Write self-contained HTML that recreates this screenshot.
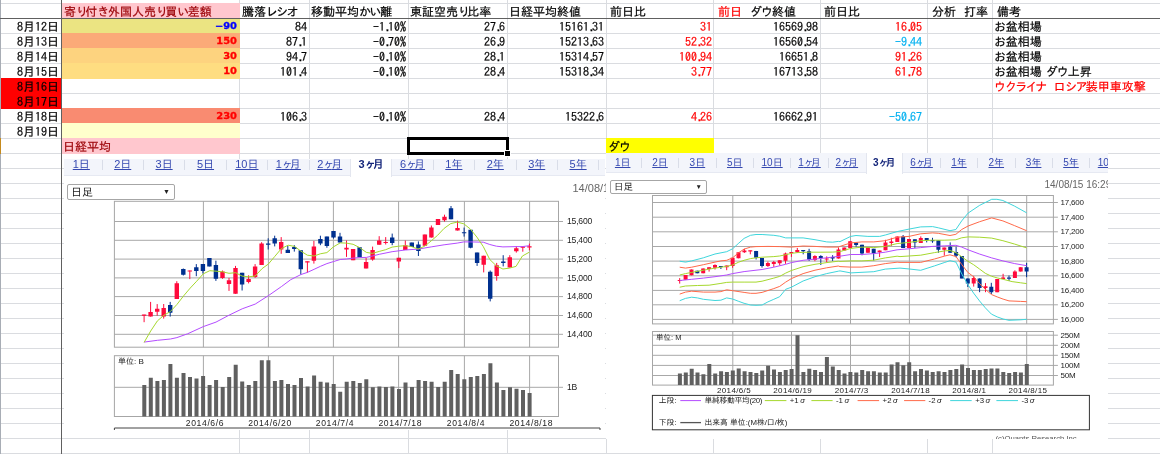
<!DOCTYPE html>
<html lang="ja"><head><meta charset="utf-8"><title>sheet</title><style>
html,body{margin:0;padding:0;background:#fff;}
body{width:1160px;height:454px;overflow:hidden;position:relative;font-family:"IPAGothic","Liberation Sans","Noto Sans CJK JP",sans-serif;font-size:12px;color:#000;}
.a{position:absolute;}
.c{position:absolute;height:15px;line-height:15px;white-space:nowrap;font-size:12px;overflow:visible;-webkit-text-stroke:0.2px;}
.r{text-align:right;}
.b{font-family:"DejaVu Sans","Liberation Sans",sans-serif;font-weight:bold;font-size:9px;text-align:right;line-height:14px;transform:scaleX(1.1);transform-origin:right center;-webkit-text-stroke:0.3px;}
.hl{position:absolute;height:1px;background:#dadce0;}
.vl{position:absolute;width:1px;background:#dadce0;}
.tab{position:absolute;text-align:center;white-space:nowrap;color:#3548b0;font-family:"Liberation Sans","IPAGothic","Noto Sans CJK JP",sans-serif;}
.tab span{text-decoration:underline;}
.tab i{font-style:normal;letter-spacing:-3px;}
.tab.sel{color:#14257a;font-weight:bold;background:#fff;}
.tab.sel span{text-decoration:none;}
.sep{position:absolute;width:1px;background:#d9dde8;}
.selbox{position:absolute;box-sizing:border-box;border:1px solid #a6a6a6;border-radius:2px;background:#fff;color:#222;white-space:nowrap;font-family:"Liberation Sans","IPAGothic","Noto Sans CJK JP",sans-serif;}
.dt{position:absolute;color:#666;font-family:"Liberation Sans",sans-serif;white-space:nowrap;overflow:hidden;}
svg{position:absolute;left:0;top:0;overflow:hidden;}
svg text{font-family:"Liberation Sans","IPAGothic","Noto Sans CJK JP",sans-serif;fill:#222;}
</style></head><body>
<div class="hl" style="left:0;top:3px;width:1160px"></div>
<div class="hl" style="left:0;top:33px;width:1160px"></div>
<div class="hl" style="left:0;top:48px;width:1160px"></div>
<div class="hl" style="left:0;top:63px;width:1160px"></div>
<div class="hl" style="left:0;top:78px;width:1160px"></div>
<div class="hl" style="left:0;top:93px;width:1160px"></div>
<div class="hl" style="left:0;top:108px;width:1160px"></div>
<div class="hl" style="left:0;top:123px;width:1160px"></div>
<div class="hl" style="left:0;top:138px;width:1160px"></div>
<div class="hl" style="left:0;top:153px;width:1160px"></div>
<div class="hl" style="left:0;top:168px;width:1160px"></div>
<div class="hl" style="left:0;top:183px;width:1160px"></div>
<div class="hl" style="left:0;top:198px;width:1160px"></div>
<div class="hl" style="left:0;top:213px;width:1160px"></div>
<div class="hl" style="left:0;top:228px;width:1160px"></div>
<div class="hl" style="left:0;top:243px;width:1160px"></div>
<div class="hl" style="left:0;top:258px;width:1160px"></div>
<div class="hl" style="left:0;top:273px;width:1160px"></div>
<div class="hl" style="left:0;top:288px;width:1160px"></div>
<div class="hl" style="left:0;top:303px;width:1160px"></div>
<div class="hl" style="left:0;top:318px;width:1160px"></div>
<div class="hl" style="left:0;top:333px;width:1160px"></div>
<div class="hl" style="left:0;top:348px;width:1160px"></div>
<div class="hl" style="left:0;top:363px;width:1160px"></div>
<div class="hl" style="left:0;top:378px;width:1160px"></div>
<div class="hl" style="left:0;top:393px;width:1160px"></div>
<div class="hl" style="left:0;top:408px;width:1160px"></div>
<div class="hl" style="left:0;top:423px;width:1160px"></div>
<div class="hl" style="left:0;top:438px;width:1160px"></div>
<div class="hl" style="left:0;top:453px;width:1160px"></div>
<div class="vl" style="left:239px;top:0;height:454px"></div>
<div class="vl" style="left:309px;top:0;height:454px"></div>
<div class="vl" style="left:408px;top:0;height:454px"></div>
<div class="vl" style="left:507px;top:0;height:454px"></div>
<div class="vl" style="left:606px;top:0;height:454px"></div>
<div class="vl" style="left:713px;top:0;height:454px"></div>
<div class="vl" style="left:820px;top:0;height:454px"></div>
<div class="vl" style="left:927px;top:0;height:454px"></div>
<div class="vl" style="left:992px;top:0;height:454px"></div>
<div class="a" style="left:62px;top:3px;width:178px;height:15px;background:#ffc7ce"></div>
<div class="a" style="left:62px;top:19px;width:178px;height:14px;background:#ebe482"></div>
<div class="a" style="left:62px;top:33px;width:178px;height:15px;background:#fbaa78"></div>
<div class="a" style="left:62px;top:48px;width:178px;height:15px;background:#fdd37f"></div>
<div class="a" style="left:62px;top:63px;width:178px;height:16px;background:#fedd81"></div>
<div class="a" style="left:1px;top:78px;width:60px;height:31px;background:#ff0000"></div>
<div class="a" style="left:62px;top:108px;width:178px;height:15px;background:#f98b71"></div>
<div class="a" style="left:62px;top:123px;width:178px;height:15px;background:#ffffcc"></div>
<div class="a" style="left:62px;top:138px;width:178px;height:16px;background:#ffc7ce"></div>
<div class="a" style="left:606px;top:138px;width:108px;height:15px;background:#ffff00"></div>
<div class="a" style="left:0;top:0;width:1px;height:454px;background:#a8adb5"></div>
<div class="a" style="left:0;top:138px;width:1px;height:16px;background:#c58a1e"></div>
<div class="a" style="left:61px;top:0;width:1px;height:454px;background:#606060"></div>
<div class="a" style="left:0;top:18px;width:1160px;height:1px;background:#606060"></div>
<div class="c " style="left:64px;top:4px;width:176px;color:#9c0006">寄<span style="letter-spacing:-2.7px">り</span>付<span style="letter-spacing:-1.4px">き</span>外国人売<span style="letter-spacing:-2.7px">り</span>買<span style="letter-spacing:-1.4px">い</span>差額</div>
<div class="c " style="left:242px;top:4px;width:67px;">騰落<span style="letter-spacing:-1.7px">レ</span><span style="letter-spacing:-1.7px">シ</span><span style="letter-spacing:-1.5px">オ</span></div>
<div class="c " style="left:311px;top:4px;width:97px;">移動平均<span style="letter-spacing:-1.4px">か</span><span style="letter-spacing:-1.4px">い</span>離</div>
<div class="c " style="left:410px;top:4px;width:97px;">東証空売<span style="letter-spacing:-2.7px">り</span>比率</div>
<div class="c " style="left:509px;top:4px;width:97px;">日経平均終値</div>
<div class="c " style="left:610px;top:4px;width:104px;">前日比</div>
<div class="c " style="left:718px;top:4px;width:102px;"><span style="color:#f00">前日</span><span style="letter-spacing:-2px">&nbsp;</span><span style="letter-spacing:-2px">&nbsp;</span><span style="letter-spacing:-1px">ダ</span><span style="letter-spacing:-1px">ウ</span>終値</div>
<div class="c " style="left:824px;top:4px;width:103px;">前日比</div>
<div class="c " style="left:932px;top:4px;width:60px;">分析<span style="letter-spacing:-2px">&nbsp;</span><span style="letter-spacing:-2px">&nbsp;</span>打率</div>
<div class="c " style="left:997px;top:4px;width:163px;">備考</div>
<div class="c r" style="left:0px;top:19px;width:59px;">8月12日</div>
<div class="c b" style="left:62px;top:19px;width:175px;color:#0000ff">−90</div>
<div class="c r" style="left:242px;top:19px;width:65px;">84</div>
<div class="c r" style="left:311px;top:19px;width:95px;">−1<span style="letter-spacing:-3px;position:relative;left:0.5px">.</span>10%</div>
<div class="c r" style="left:410px;top:19px;width:95px;">27<span style="letter-spacing:-3px;position:relative;left:0.5px">.</span>6</div>
<div class="c r" style="left:509px;top:19px;width:95px;">15161<span style="letter-spacing:-3px;position:relative;left:0.5px">.</span>31</div>
<div class="c r" style="left:608px;top:19px;width:104px;color:#f00">31</div>
<div class="c r" style="left:715px;top:19px;width:103px;">16569<span style="letter-spacing:-3px;position:relative;left:0.5px">.</span>98</div>
<div class="c r" style="left:822px;top:19px;width:100px;color:#f00">16<span style="letter-spacing:-3px;position:relative;left:0.5px">.</span>05</div>
<div class="c " style="left:994px;top:19px;width:166px;color:#000"><span style="letter-spacing:-0.3px">お</span>盆相場</div>
<div class="c r" style="left:0px;top:34px;width:59px;">8月13日</div>
<div class="c b" style="left:62px;top:34px;width:175px;color:#ff0000">150</div>
<div class="c r" style="left:242px;top:34px;width:65px;">87<span style="letter-spacing:-3px;position:relative;left:0.5px">.</span>1</div>
<div class="c r" style="left:311px;top:34px;width:95px;">−0<span style="letter-spacing:-3px;position:relative;left:0.5px">.</span>70%</div>
<div class="c r" style="left:410px;top:34px;width:95px;">26<span style="letter-spacing:-3px;position:relative;left:0.5px">.</span>9</div>
<div class="c r" style="left:509px;top:34px;width:95px;">15213<span style="letter-spacing:-3px;position:relative;left:0.5px">.</span>63</div>
<div class="c r" style="left:608px;top:34px;width:104px;color:#f00">52<span style="letter-spacing:-3px;position:relative;left:0.5px">.</span>32</div>
<div class="c r" style="left:715px;top:34px;width:103px;">16560<span style="letter-spacing:-3px;position:relative;left:0.5px">.</span>54</div>
<div class="c r" style="left:822px;top:34px;width:100px;color:#00b0f0">−9<span style="letter-spacing:-3px;position:relative;left:0.5px">.</span>44</div>
<div class="c " style="left:994px;top:34px;width:166px;color:#000"><span style="letter-spacing:-0.3px">お</span>盆相場</div>
<div class="c r" style="left:0px;top:49px;width:59px;">8月14日</div>
<div class="c b" style="left:62px;top:49px;width:175px;color:#ff0000">30</div>
<div class="c r" style="left:242px;top:49px;width:65px;">94<span style="letter-spacing:-3px;position:relative;left:0.5px">.</span>7</div>
<div class="c r" style="left:311px;top:49px;width:95px;">−0<span style="letter-spacing:-3px;position:relative;left:0.5px">.</span>10%</div>
<div class="c r" style="left:410px;top:49px;width:95px;">28<span style="letter-spacing:-3px;position:relative;left:0.5px">.</span>1</div>
<div class="c r" style="left:509px;top:49px;width:95px;">15314<span style="letter-spacing:-3px;position:relative;left:0.5px">.</span>57</div>
<div class="c r" style="left:608px;top:49px;width:104px;color:#f00">100<span style="letter-spacing:-3px;position:relative;left:0.5px">.</span>94</div>
<div class="c r" style="left:715px;top:49px;width:103px;">16651<span style="letter-spacing:-3px;position:relative;left:0.5px">.</span>8</div>
<div class="c r" style="left:822px;top:49px;width:100px;color:#f00">91<span style="letter-spacing:-3px;position:relative;left:0.5px">.</span>26</div>
<div class="c " style="left:994px;top:49px;width:166px;color:#000"><span style="letter-spacing:-0.3px">お</span>盆相場</div>
<div class="c r" style="left:0px;top:64px;width:59px;">8月15日</div>
<div class="c b" style="left:62px;top:64px;width:175px;color:#ff0000">10</div>
<div class="c r" style="left:242px;top:64px;width:65px;">101<span style="letter-spacing:-3px;position:relative;left:0.5px">.</span>4</div>
<div class="c r" style="left:311px;top:64px;width:95px;">−0<span style="letter-spacing:-3px;position:relative;left:0.5px">.</span>10%</div>
<div class="c r" style="left:410px;top:64px;width:95px;">28<span style="letter-spacing:-3px;position:relative;left:0.5px">.</span>4</div>
<div class="c r" style="left:509px;top:64px;width:95px;">15318<span style="letter-spacing:-3px;position:relative;left:0.5px">.</span>34</div>
<div class="c r" style="left:608px;top:64px;width:104px;color:#f00">3<span style="letter-spacing:-3px;position:relative;left:0.5px">.</span>77</div>
<div class="c r" style="left:715px;top:64px;width:103px;">16713<span style="letter-spacing:-3px;position:relative;left:0.5px">.</span>58</div>
<div class="c r" style="left:822px;top:64px;width:100px;color:#f00">61<span style="letter-spacing:-3px;position:relative;left:0.5px">.</span>78</div>
<div class="c " style="left:994px;top:64px;width:166px;color:#000"><span style="letter-spacing:-0.3px">お</span>盆相場<span style="letter-spacing:-2px">&nbsp;</span><span style="letter-spacing:-1px">ダ</span><span style="letter-spacing:-1px">ウ</span>上昇</div>
<div class="c r" style="left:0px;top:79px;width:59px;">8月16日</div>
<div class="c " style="left:994px;top:79px;width:166px;color:#f00"><span style="letter-spacing:-1px">ウ</span><span style="letter-spacing:-1.7px">ク</span><span style="letter-spacing:-1.7px">ラ</span><span style="letter-spacing:-2.5px">イ</span><span style="letter-spacing:-1.7px">ナ</span><span style="letter-spacing:-2px">&nbsp;</span><span style="letter-spacing:-2px">&nbsp;</span><span style="letter-spacing:-0.3px">ロ</span><span style="letter-spacing:-1.7px">シ</span><span style="letter-spacing:-1.7px">ア</span>装甲車攻撃</div>
<div class="c r" style="left:0px;top:94px;width:59px;">8月17日</div>
<div class="c r" style="left:0px;top:109px;width:59px;">8月18日</div>
<div class="c b" style="left:62px;top:109px;width:175px;color:#ff0000">230</div>
<div class="c r" style="left:242px;top:109px;width:65px;">106<span style="letter-spacing:-3px;position:relative;left:0.5px">.</span>3</div>
<div class="c r" style="left:311px;top:109px;width:95px;">−0<span style="letter-spacing:-3px;position:relative;left:0.5px">.</span>10%</div>
<div class="c r" style="left:410px;top:109px;width:95px;">28<span style="letter-spacing:-3px;position:relative;left:0.5px">.</span>4</div>
<div class="c r" style="left:509px;top:109px;width:95px;">15322<span style="letter-spacing:-3px;position:relative;left:0.5px">.</span>6</div>
<div class="c r" style="left:608px;top:109px;width:104px;color:#f00">4<span style="letter-spacing:-3px;position:relative;left:0.5px">.</span>26</div>
<div class="c r" style="left:715px;top:109px;width:103px;">16662<span style="letter-spacing:-3px;position:relative;left:0.5px">.</span>91</div>
<div class="c r" style="left:822px;top:109px;width:100px;color:#00b0f0">−50<span style="letter-spacing:-3px;position:relative;left:0.5px">.</span>67</div>
<div class="c r" style="left:0px;top:124px;width:59px;">8月19日</div>
<div class="c " style="left:63px;top:139px;width:177px;color:#9c0006">日経平均</div>
<div class="c " style="left:608px;top:139px;width:106px;"><span style="letter-spacing:-1px">ダ</span><span style="letter-spacing:-1px">ウ</span></div>
<div class="a" style="left:407px;top:137px;width:96px;height:12px;border:3px solid #000"></div>
<div class="a" style="left:504px;top:150px;width:5px;height:5px;background:#000;border:1px solid #fff"></div>
<div class="a" style="left:64px;top:159px;width:541px;height:271px;background:#fff"></div>
<div class="a" style="left:64px;top:159px;width:541px;height:19px;overflow:hidden">
<div class="a" style="left:0;top:0;width:541px;height:17px;background:#f3f5fb;border-bottom:1px solid #e6e9f2;box-sizing:border-box"></div>
<div class="tab" style="left:-3.40px;top:0;width:41.40px;height:17px;line-height:11.5px;font-size:11px"><span>1日</span></div>
<div class="tab" style="left:38.00px;top:0;width:41.40px;height:17px;line-height:11.5px;font-size:11px"><span>2日</span></div>
<div class="sep" style="left:37.5px;top:0.75px;height:10px"></div>
<div class="tab" style="left:79.40px;top:0;width:41.40px;height:17px;line-height:11.5px;font-size:11px"><span>3日</span></div>
<div class="sep" style="left:78.9px;top:0.75px;height:10px"></div>
<div class="tab" style="left:120.80px;top:0;width:41.40px;height:17px;line-height:11.5px;font-size:11px"><span>5日</span></div>
<div class="sep" style="left:120.3px;top:0.75px;height:10px"></div>
<div class="tab" style="left:162.20px;top:0;width:41.40px;height:17px;line-height:11.5px;font-size:11px"><span>10日</span></div>
<div class="sep" style="left:161.7px;top:0.75px;height:10px"></div>
<div class="tab" style="left:203.60px;top:0;width:41.40px;height:17px;line-height:11.5px;font-size:11px"><span>1<i>ヶ</i>月</span></div>
<div class="sep" style="left:203.1px;top:0.75px;height:10px"></div>
<div class="tab" style="left:245.00px;top:0;width:41.40px;height:17px;line-height:11.5px;font-size:11px"><span>2<i>ヶ</i>月</span></div>
<div class="sep" style="left:244.5px;top:0.75px;height:10px"></div>
<div class="tab sel" style="left:286.40px;top:0;width:41.40px;height:18px;line-height:11.5px;font-size:11px;border-left:1px solid #e3e6ef;border-right:1px solid #e3e6ef;box-sizing:border-box"><span>3<i>ヶ</i>月</span></div>
<div class="tab" style="left:327.80px;top:0;width:41.40px;height:17px;line-height:11.5px;font-size:11px"><span>6<i>ヶ</i>月</span></div>
<div class="tab" style="left:369.20px;top:0;width:41.40px;height:17px;line-height:11.5px;font-size:11px"><span>1年</span></div>
<div class="sep" style="left:368.7px;top:0.75px;height:10px"></div>
<div class="tab" style="left:410.60px;top:0;width:41.40px;height:17px;line-height:11.5px;font-size:11px"><span>2年</span></div>
<div class="sep" style="left:410.1px;top:0.75px;height:10px"></div>
<div class="tab" style="left:452.00px;top:0;width:41.40px;height:17px;line-height:11.5px;font-size:11px"><span>3年</span></div>
<div class="sep" style="left:451.5px;top:0.75px;height:10px"></div>
<div class="tab" style="left:493.40px;top:0;width:41.40px;height:17px;line-height:11.5px;font-size:11px"><span>5年</span></div>
<div class="sep" style="left:492.9px;top:0.75px;height:10px"></div>
<div class="tab" style="left:534.80px;top:0;width:41.40px;height:17px;line-height:11.5px;font-size:11px"><span>10年</span></div>
<div class="sep" style="left:534.3px;top:0.75px;height:10px"></div>
</div>
<div class="selbox" style="left:67px;top:184px;width:108px;height:16px;font-size:11px;line-height:14px;padding-left:3px">日足<span style="position:absolute;right:4px;top:0;font-size:7px">▼</span></div>
<div class="dt" style="left:572.5px;top:182px;width:33.5px;height:13px;line-height:13px;font-size:11px">14/08/15 16:29</div>
<svg style="left:64px;top:159px" width="541" height="271" viewBox="64 159 541 271">
<path d="M114.4 221.5 H563.0 M114.4 240.3 H563.0 M114.4 259.1 H563.0 M114.4 277.9 H563.0 M114.4 296.6 H563.0 M114.4 315.5 H563.0 M114.4 334.3 H563.0 M203.4 201.3 V347.2 M203.4 355.7 V416.5 M268.4 201.3 V347.2 M268.4 355.7 V416.5 M333.4 201.3 V347.2 M333.4 355.7 V416.5 M398.6 201.3 V347.2 M398.6 355.7 V416.5 M464.4 201.3 V347.2 M464.4 355.7 V416.5 M529.6 201.3 V347.2 M529.6 355.7 V416.5 M114.4 387.3 H563.0" stroke="#a8a8a8" stroke-width="1" fill="none"/>
<rect x="114.4" y="201.3" width="444.1" height="145.9" fill="none" stroke="#a6a6a6" stroke-width="1"/>
<rect x="114.4" y="355.7" width="444.1" height="60.8" fill="none" stroke="#a6a6a6" stroke-width="1"/>
<path d="M142.3 416.5 h4.0 V385.0 h-4.0 z M148.8 416.5 h4.0 V377.8 h-4.0 z M155.4 416.5 h4.0 V380.9 h-4.0 z M161.9 416.5 h4.0 V380.0 h-4.0 z M168.4 416.5 h4.0 V364.0 h-4.0 z M174.9 416.5 h4.0 V377.8 h-4.0 z M181.5 416.5 h4.0 V373.1 h-4.0 z M188.0 416.5 h4.0 V376.9 h-4.0 z M194.5 416.5 h4.0 V378.6 h-4.0 z M201.1 416.5 h4.0 V376.0 h-4.0 z M207.6 416.5 h4.0 V385.0 h-4.0 z M214.1 416.5 h4.0 V380.0 h-4.0 z M220.7 416.5 h4.0 V386.9 h-4.0 z M227.2 416.5 h4.0 V376.9 h-4.0 z M233.7 416.5 h4.0 V364.8 h-4.0 z M240.2 416.5 h4.0 V381.6 h-4.0 z M246.8 416.5 h4.0 V385.0 h-4.0 z M253.3 416.5 h4.0 V380.9 h-4.0 z M259.8 416.5 h4.0 V360.2 h-4.0 z M266.4 416.5 h4.0 V360.2 h-4.0 z M272.9 416.5 h4.0 V380.9 h-4.0 z M279.4 416.5 h4.0 V380.0 h-4.0 z M286.0 416.5 h4.0 V384.1 h-4.0 z M292.5 416.5 h4.0 V385.0 h-4.0 z M299.0 416.5 h4.0 V377.9 h-4.0 z M305.6 416.5 h4.0 V386.5 h-4.0 z M312.1 416.5 h4.0 V375.6 h-4.0 z M318.6 416.5 h4.0 V381.8 h-4.0 z M325.1 416.5 h4.0 V382.5 h-4.0 z M331.7 416.5 h4.0 V383.9 h-4.0 z M338.2 416.5 h4.0 V391.7 h-4.0 z M344.7 416.5 h4.0 V381.8 h-4.0 z M351.3 416.5 h4.0 V381.0 h-4.0 z M357.8 416.5 h4.0 V383.0 h-4.0 z M364.3 416.5 h4.0 V379.2 h-4.0 z M370.8 416.5 h4.0 V387.3 h-4.0 z M377.4 416.5 h4.0 V386.5 h-4.0 z M383.9 416.5 h4.0 V387.0 h-4.0 z M390.4 416.5 h4.0 V386.5 h-4.0 z M397.0 416.5 h4.0 V389.1 h-4.0 z M403.5 416.5 h4.0 V382.5 h-4.0 z M410.0 416.5 h4.0 V387.0 h-4.0 z M416.6 416.5 h4.0 V380.1 h-4.0 z M423.1 416.5 h4.0 V381.0 h-4.0 z M429.6 416.5 h4.0 V381.8 h-4.0 z M436.2 416.5 h4.0 V387.0 h-4.0 z M442.7 416.5 h4.0 V381.8 h-4.0 z M449.2 416.5 h4.0 V370.1 h-4.0 z M455.7 416.5 h4.0 V373.9 h-4.0 z M462.3 416.5 h4.0 V379.2 h-4.0 z M468.8 416.5 h4.0 V377.0 h-4.0 z M475.3 416.5 h4.0 V376.1 h-4.0 z M481.9 416.5 h4.0 V373.9 h-4.0 z M488.4 416.5 h4.0 V363.2 h-4.0 z M494.9 416.5 h4.0 V382.5 h-4.0 z M501.4 416.5 h4.0 V389.9 h-4.0 z M508.0 416.5 h4.0 V387.3 h-4.0 z M514.5 416.5 h4.0 V388.7 h-4.0 z M521.0 416.5 h4.0 V389.9 h-4.0 z M527.6 416.5 h4.0 V393.0 h-4.0 z" fill="#606060"/>
<path d="M144.1 314.7 V322.2 M150.6 301.9 V316.6 M157.2 304.1 V315.7 M163.7 304.0 V318.6 M176.8 281.2 V299.0 M189.8 270.5 V279.1 M222.5 270.5 V278.8 M229.0 277.9 V290.9 M235.5 265.9 V293.8 M248.6 275.3 V283.4 M255.1 264.1 V277.9 M261.6 242.2 V265.0 M281.2 237.1 V253.8 M307.4 261.4 V272.8 M313.9 240.9 V263.6 M346.5 240.5 V256.9 M353.1 249.0 V260.2 M366.1 257.8 V268.4 M372.6 246.6 V260.7 M379.2 236.2 V244.8 M385.7 237.1 V244.5 M398.8 257.8 V268.1 M405.3 240.5 V250.0 M424.9 234.5 V245.7 M431.4 225.5 V237.6 M438.0 219.0 V225.0 M444.5 214.7 V221.6 M457.5 220.7 V230.5 M483.7 255.7 V272.4 M496.7 262.9 V280.7 M509.8 255.2 V267.6 M516.3 246.2 V252.6 M522.8 246.6 V251.7 M529.4 243.6 V250.3" stroke="#ff0a3c" stroke-width="1" fill="none"/>
<path d="M141.9 314.6 h4.4 V315.8 h-4.4 z M148.4 311.9 h4.4 V316.6 h-4.4 z M155.0 308.8 h4.4 V311.7 h-4.4 z M161.5 307.9 h4.4 V316.6 h-4.4 z M174.6 283.3 h4.4 V299.0 h-4.4 z M187.6 270.4 h4.4 V271.6 h-4.4 z M220.3 271.6 h4.4 V277.9 h-4.4 z M226.8 280.2 h4.4 V284.0 h-4.4 z M233.3 267.9 h4.4 V293.8 h-4.4 z M246.4 279.1 h4.4 V281.9 h-4.4 z M252.9 266.4 h4.4 V277.1 h-4.4 z M259.4 243.4 h4.4 V265.0 h-4.4 z M279.0 242.1 h4.4 V249.5 h-4.4 z M305.2 261.3 h4.4 V262.5 h-4.4 z M311.7 246.6 h4.4 V260.7 h-4.4 z M344.3 247.8 h4.4 V249.5 h-4.4 z M350.9 249.0 h4.4 V260.2 h-4.4 z M363.9 261.9 h4.4 V268.4 h-4.4 z M370.4 250.0 h4.4 V259.5 h-4.4 z M377.0 240.5 h4.4 V244.8 h-4.4 z M383.5 241.9 h4.4 V243.1 h-4.4 z M396.6 257.8 h4.4 V261.6 h-4.4 z M403.1 245.3 h4.4 V250.0 h-4.4 z M422.7 234.5 h4.4 V245.7 h-4.4 z M429.2 227.6 h4.4 V237.6 h-4.4 z M435.8 219.0 h4.4 V225.0 h-4.4 z M442.3 216.7 h4.4 V220.3 h-4.4 z M455.3 227.9 h4.4 V230.5 h-4.4 z M481.5 255.7 h4.4 V264.7 h-4.4 z M494.5 265.2 h4.4 V276.0 h-4.4 z M507.6 257.2 h4.4 V267.6 h-4.4 z M514.1 248.3 h4.4 V251.2 h-4.4 z M520.6 246.5 h4.4 V247.7 h-4.4 z M527.2 246.3 h4.4 V247.5 h-4.4 z" fill="#ff0a3c"/>
<path d="M170.2 301.9 V316.6 M183.3 268.5 V275.5 M196.3 264.1 V276.2 M202.9 264.1 V273.6 M209.4 258.1 V266.4 M215.9 260.7 V280.9 M242.1 272.8 V290.5 M268.2 238.3 V249.5 M274.7 235.7 V246.4 M287.8 246.0 V252.9 M294.3 245.2 V251.6 M300.8 250.3 V274.5 M320.4 235.7 V245.2 M326.9 236.6 V247.8 M333.5 231.0 V238.6 M340.0 232.8 V242.6 M359.6 247.2 V257.2 M392.2 233.6 V245.2 M411.8 242.6 V246.9 M418.4 241.4 V256.0 M451.0 206.0 V219.3 M464.1 227.6 V236.6 M470.6 229.8 V248.3 M477.1 252.6 V265.9 M490.2 270.5 V301.4 M503.2 255.2 V266.4" stroke="#00308f" stroke-width="1" fill="none"/>
<path d="M168.0 305.0 h4.4 V312.8 h-4.4 z M181.1 269.0 h4.4 V274.8 h-4.4 z M194.1 267.2 h4.4 V271.0 h-4.4 z M200.7 264.1 h4.4 V271.0 h-4.4 z M207.2 258.1 h4.4 V266.4 h-4.4 z M213.7 265.0 h4.4 V278.8 h-4.4 z M239.9 272.8 h4.4 V284.5 h-4.4 z M266.0 243.4 h4.4 V244.7 h-4.4 z M272.5 238.3 h4.4 V243.4 h-4.4 z M285.6 249.8 h4.4 V252.9 h-4.4 z M292.1 246.9 h4.4 V249.0 h-4.4 z M298.6 250.3 h4.4 V269.3 h-4.4 z M318.2 239.1 h4.4 V243.4 h-4.4 z M324.7 236.6 h4.4 V246.0 h-4.4 z M331.3 231.0 h4.4 V237.4 h-4.4 z M337.8 236.6 h4.4 V242.6 h-4.4 z M357.4 247.2 h4.4 V257.2 h-4.4 z M390.0 237.6 h4.4 V243.1 h-4.4 z M409.6 242.6 h4.4 V246.9 h-4.4 z M416.2 244.5 h4.4 V250.9 h-4.4 z M448.8 208.3 h4.4 V219.3 h-4.4 z M461.9 232.2 h4.4 V233.3 h-4.4 z M468.4 229.8 h4.4 V247.8 h-4.4 z M474.9 252.6 h4.4 V262.9 h-4.4 z M488.0 271.7 h4.4 V298.8 h-4.4 z M501.1 261.6 h4.4 V262.9 h-4.4 z" fill="#00308f"/>
<g fill="none" stroke-width="1" stroke-linejoin="round">
<path d="M144.1 342.1 L157.4 340.3 L170.5 339.0 L176.9 337.6 L187.6 333.8 L203.3 326.6 L216.0 322.1 L229.0 315.2 L242.2 308.8 L255.2 304.1 L268.6 295.5 L281.4 286.6 L290.7 279.7 L301.0 274.5 L307.4 272.4 L314.1 269.3 L320.3 266.4 L326.9 263.6 L333.4 261.6 L340.2 259.5 L346.4 259.0 L353.1 258.1 L359.5 257.6 L366.4 257.4 L372.4 256.0 L379.3 254.3 L392.1 251.7 L405.2 250.0 L418.1 249.1 L431.2 246.9 L444.1 244.8 L457.2 243.1 L463.8 241.9 L470.3 241.9 L483.3 242.2 L489.8 244.5 L496.4 246.2 L502.9 246.9 L516.0 246.6 L522.4 246.6 L529.3 245.7" stroke="#b44cff"/>
<path d="M144.1 342.4 L150.7 331.0 L157.4 320.9 L164.0 315.2 L170.5 311.4 L176.9 304.5 L183.6 295.9 L190.2 288.1 L196.7 281.2 L203.3 273.8 L209.8 270.7 L216.0 271.2 L222.6 271.8 L229.0 273.3 L235.7 272.7 L242.1 276.1 L248.8 276.8 L255.2 276.0 L262.1 268.6 L268.3 264.1 L274.8 256.4 L281.4 248.6 L288.1 245.2 L294.5 246.4 L301.0 251.2 L307.4 255.2 L314.1 256.0 L320.3 253.8 L326.9 252.6 L333.4 246.9 L340.2 242.9 L346.4 243.1 L353.1 244.3 L359.5 247.5 L366.4 252.4 L372.4 253.4 L379.3 251.4 L385.7 249.7 L392.1 247.1 L398.6 246.2 L405.2 245.7 L411.6 246.6 L418.1 249.1 L424.7 246.2 L431.2 240.9 L437.6 235.3 L444.1 228.4 L450.7 223.6 L457.2 222.1 L463.8 223.8 L470.3 229.0 L476.9 237.1 L483.3 246.6 L489.8 259.5 L496.4 265.9 L502.9 269.0 L509.5 268.1 L516.0 266.4 L522.4 256.0 L529.3 252.2" stroke="#a6d82e"/>
</g>
<text x="567.0" y="224.2" font-size="8.6" letter-spacing="-0.2">15,600</text>
<text x="567.0" y="243.0" font-size="8.6" letter-spacing="-0.2">15,400</text>
<text x="567.0" y="261.8" font-size="8.6" letter-spacing="-0.2">15,200</text>
<text x="567.0" y="280.6" font-size="8.6" letter-spacing="-0.2">15,000</text>
<text x="567.0" y="299.3" font-size="8.6" letter-spacing="-0.2">14,800</text>
<text x="567.0" y="318.2" font-size="8.6" letter-spacing="-0.2">14,600</text>
<text x="567.0" y="337.0" font-size="8.6" letter-spacing="-0.2">14,400</text>
<text x="567.0" y="390.0" font-size="8.6" letter-spacing="-0.2">1B</text>
<text x="205.0" y="425.6" font-size="8.6" letter-spacing="0.6" text-anchor="middle">2014/6/6</text>
<text x="270.0" y="425.6" font-size="8.6" letter-spacing="0.6" text-anchor="middle">2014/6/20</text>
<text x="335.0" y="425.6" font-size="8.6" letter-spacing="0.6" text-anchor="middle">2014/7/4</text>
<text x="400.2" y="425.6" font-size="8.6" letter-spacing="0.6" text-anchor="middle">2014/7/18</text>
<text x="466.0" y="425.6" font-size="8.6" letter-spacing="0.6" text-anchor="middle">2014/8/4</text>
<text x="531.2" y="425.6" font-size="8.6" letter-spacing="0.6" text-anchor="middle">2014/8/18</text>
<text x="117.9" y="364.3" font-size="8.084">単位: B</text>
<path d="M114.4 430 V428 H600 V430" fill="none" stroke="#444" stroke-width="1"/>
</svg>
<div class="a" style="left:606px;top:153px;width:502px;height:286px;background:#fff"></div>
<div class="a" style="left:606px;top:153px;width:502px;height:22px;overflow:hidden">
<div class="a" style="left:0;top:0;width:502px;height:20px;background:#f3f5fb;border-bottom:1px solid #e6e9f2;box-sizing:border-box"></div>
<div class="tab" style="left:-2.00px;top:0;width:37.36px;height:20px;line-height:20px;font-size:10px"><span>1日</span></div>
<div class="tab" style="left:35.36px;top:0;width:37.36px;height:20px;line-height:20px;font-size:10px"><span>2日</span></div>
<div class="sep" style="left:34.9px;top:5px;height:10px"></div>
<div class="tab" style="left:72.72px;top:0;width:37.36px;height:20px;line-height:20px;font-size:10px"><span>3日</span></div>
<div class="sep" style="left:72.2px;top:5px;height:10px"></div>
<div class="tab" style="left:110.08px;top:0;width:37.36px;height:20px;line-height:20px;font-size:10px"><span>5日</span></div>
<div class="sep" style="left:109.6px;top:5px;height:10px"></div>
<div class="tab" style="left:147.44px;top:0;width:37.36px;height:20px;line-height:20px;font-size:10px"><span>10日</span></div>
<div class="sep" style="left:146.9px;top:5px;height:10px"></div>
<div class="tab" style="left:184.80px;top:0;width:37.36px;height:20px;line-height:20px;font-size:10px"><span>1<i>ヶ</i>月</span></div>
<div class="sep" style="left:184.3px;top:5px;height:10px"></div>
<div class="tab" style="left:222.16px;top:0;width:37.36px;height:20px;line-height:20px;font-size:10px"><span>2<i>ヶ</i>月</span></div>
<div class="sep" style="left:221.7px;top:5px;height:10px"></div>
<div class="tab sel" style="left:259.52px;top:0;width:37.36px;height:21px;line-height:20px;font-size:10px;border-left:1px solid #e3e6ef;border-right:1px solid #e3e6ef;box-sizing:border-box"><span>3<i>ヶ</i>月</span></div>
<div class="tab" style="left:296.88px;top:0;width:37.36px;height:20px;line-height:20px;font-size:10px"><span>6<i>ヶ</i>月</span></div>
<div class="tab" style="left:334.24px;top:0;width:37.36px;height:20px;line-height:20px;font-size:10px"><span>1年</span></div>
<div class="sep" style="left:333.7px;top:5px;height:10px"></div>
<div class="tab" style="left:371.60px;top:0;width:37.36px;height:20px;line-height:20px;font-size:10px"><span>2年</span></div>
<div class="sep" style="left:371.1px;top:5px;height:10px"></div>
<div class="tab" style="left:408.96px;top:0;width:37.36px;height:20px;line-height:20px;font-size:10px"><span>3年</span></div>
<div class="sep" style="left:408.5px;top:5px;height:10px"></div>
<div class="tab" style="left:446.32px;top:0;width:37.36px;height:20px;line-height:20px;font-size:10px"><span>5年</span></div>
<div class="sep" style="left:445.8px;top:5px;height:10px"></div>
<div class="tab" style="left:483.68px;top:0;width:37.36px;height:20px;line-height:20px;font-size:10px"><span>10年</span></div>
<div class="sep" style="left:483.2px;top:5px;height:10px"></div>
</div>
<div class="selbox" style="left:610px;top:180px;width:97px;height:14px;font-size:9.5px;line-height:12px;padding-left:3px">日足<span style="position:absolute;right:4px;top:0;font-size:6.5px">▼</span></div>
<div class="dt" style="left:1044.5px;top:178px;width:63.5px;height:13px;line-height:13px;font-size:10px">14/08/15 16:29</div>
<svg style="left:606px;top:153px" width="502" height="286" viewBox="606 153 502 286">
<path d="M652.5 202.5 H1057.9 M652.5 217.2 H1057.9 M652.5 231.8 H1057.9 M652.5 246.5 H1057.9 M652.5 261.1 H1057.9 M652.5 275.8 H1057.9 M652.5 290.4 H1057.9 M652.5 304.8 H1057.9 M652.5 319.4 H1057.9 M732.8 195.5 V323.9 M732.8 331.5 V385.1 M791.5 195.5 V323.9 M791.5 331.5 V385.1 M850.5 195.5 V323.9 M850.5 331.5 V385.1 M909.4 195.5 V323.9 M909.4 331.5 V385.1 M968.1 195.5 V323.9 M968.1 331.5 V385.1 M1026.7 195.5 V323.9 M1026.7 331.5 V385.1 M652.5 335.2 H1057.9 M652.5 345.3 H1057.9 M652.5 355.3 H1057.9 M652.5 365.4 H1057.9 M652.5 375.5 H1057.9" stroke="#a8a8a8" stroke-width="1" fill="none"/>
<rect x="652.5" y="195.5" width="400.9" height="128.4" fill="none" stroke="#a6a6a6" stroke-width="1"/>
<rect x="652.5" y="331.5" width="400.9" height="53.6" fill="none" stroke="#a6a6a6" stroke-width="1"/>
<path d="M677.9 385.1 h4.0 V373.4 h-4.0 z M683.8 385.1 h4.0 V372.6 h-4.0 z M689.7 385.1 h4.0 V368.8 h-4.0 z M695.5 385.1 h4.0 V372.6 h-4.0 z M701.4 385.1 h4.0 V374.3 h-4.0 z M707.3 385.1 h4.0 V364.0 h-4.0 z M713.2 385.1 h4.0 V373.4 h-4.0 z M719.1 385.1 h4.0 V371.2 h-4.0 z M724.9 385.1 h4.0 V372.1 h-4.0 z M730.8 385.1 h4.0 V370.5 h-4.0 z M736.7 385.1 h4.0 V368.6 h-4.0 z M742.6 385.1 h4.0 V371.2 h-4.0 z M748.5 385.1 h4.0 V372.1 h-4.0 z M754.3 385.1 h4.0 V372.9 h-4.0 z M760.2 385.1 h4.0 V370.5 h-4.0 z M766.1 385.1 h4.0 V365.7 h-4.0 z M772.0 385.1 h4.0 V369.5 h-4.0 z M777.9 385.1 h4.0 V372.1 h-4.0 z M783.7 385.1 h4.0 V370.0 h-4.0 z M789.6 385.1 h4.0 V369.1 h-4.0 z M795.5 385.1 h4.0 V335.2 h-4.0 z M801.4 385.1 h4.0 V372.1 h-4.0 z M807.3 385.1 h4.0 V368.8 h-4.0 z M813.1 385.1 h4.0 V370.0 h-4.0 z M819.0 385.1 h4.0 V372.1 h-4.0 z M824.9 385.1 h4.0 V357.1 h-4.0 z M830.8 385.1 h4.0 V366.6 h-4.0 z M836.7 385.1 h4.0 V370.0 h-4.0 z M842.5 385.1 h4.0 V373.4 h-4.0 z M848.4 385.1 h4.0 V372.1 h-4.0 z M854.3 385.1 h4.0 V372.6 h-4.0 z M860.2 385.1 h4.0 V370.0 h-4.0 z M866.1 385.1 h4.0 V371.2 h-4.0 z M871.9 385.1 h4.0 V371.2 h-4.0 z M877.8 385.1 h4.0 V372.6 h-4.0 z M883.7 385.1 h4.0 V372.6 h-4.0 z M889.6 385.1 h4.0 V364.5 h-4.0 z M895.5 385.1 h4.0 V362.2 h-4.0 z M901.3 385.1 h4.0 V365.3 h-4.0 z M907.2 385.1 h4.0 V362.2 h-4.0 z M913.1 385.1 h4.0 V371.2 h-4.0 z M919.0 385.1 h4.0 V369.1 h-4.0 z M924.9 385.1 h4.0 V370.5 h-4.0 z M930.7 385.1 h4.0 V372.1 h-4.0 z M936.6 385.1 h4.0 V371.2 h-4.0 z M942.5 385.1 h4.0 V372.1 h-4.0 z M948.4 385.1 h4.0 V370.0 h-4.0 z M954.3 385.1 h4.0 V369.1 h-4.0 z M960.1 385.1 h4.0 V364.5 h-4.0 z M966.0 385.1 h4.0 V367.9 h-4.0 z M971.9 385.1 h4.0 V370.0 h-4.0 z M977.8 385.1 h4.0 V370.0 h-4.0 z M983.7 385.1 h4.0 V369.1 h-4.0 z M989.5 385.1 h4.0 V368.6 h-4.0 z M995.4 385.1 h4.0 V368.6 h-4.0 z M1001.3 385.1 h4.0 V372.1 h-4.0 z M1007.2 385.1 h4.0 V372.9 h-4.0 z M1013.1 385.1 h4.0 V372.1 h-4.0 z M1018.9 385.1 h4.0 V372.6 h-4.0 z M1024.8 385.1 h4.0 V364.0 h-4.0 z" fill="#606060"/>
<path d="M679.7 278.1 V283.6 M685.6 275.0 V279.8 M691.5 269.5 V275.3 M703.2 268.4 V273.3 M709.1 267.2 V271.6 M715.0 264.3 V269.5 M726.7 265.5 V270.2 M732.6 257.8 V267.8 M738.5 252.2 V258.3 M744.4 248.8 V252.9 M750.3 250.5 V254.3 M767.9 261.6 V266.9 M773.8 260.9 V266.9 M779.7 260.3 V265.5 M785.5 252.6 V263.8 M791.4 252.0 V256.9 M797.3 247.9 V252.9 M814.9 255.2 V261.2 M826.7 256.4 V262.6 M838.5 247.4 V258.6 M844.3 247.6 V250.5 M850.2 241.2 V248.1 M867.9 247.2 V252.8 M879.6 250.5 V257.0 M885.5 239.8 V250.2 M891.4 237.8 V245.9 M897.3 236.4 V241.9 M909.0 239.0 V248.1 M920.8 236.4 V242.9 M944.3 247.6 V255.7 M973.7 275.9 V286.6 M985.5 283.1 V292.2 M997.2 279.0 V292.2 M1003.1 273.8 V279.0 M1014.9 270.3 V277.9 M1020.7 267.2 V271.6" stroke="#ff0a3c" stroke-width="1" fill="none"/>
<path d="M677.7 279.9 h4.0 V281.1 h-4.0 z M683.6 275.0 h4.0 V279.8 h-4.0 z M689.5 269.5 h4.0 V275.3 h-4.0 z M701.2 268.4 h4.0 V273.3 h-4.0 z M707.1 267.2 h4.0 V269.0 h-4.0 z M713.0 265.0 h4.0 V267.8 h-4.0 z M724.7 265.5 h4.0 V267.2 h-4.0 z M730.6 257.8 h4.0 V265.9 h-4.0 z M736.5 252.2 h4.0 V258.3 h-4.0 z M742.4 250.5 h4.0 V252.2 h-4.0 z M748.3 250.3 h4.0 V251.5 h-4.0 z M765.9 262.9 h4.0 V266.0 h-4.0 z M771.8 262.0 h4.0 V264.1 h-4.0 z M777.7 260.3 h4.0 V263.3 h-4.0 z M783.5 253.4 h4.0 V260.7 h-4.0 z M789.4 251.9 h4.0 V253.1 h-4.0 z M795.3 250.0 h4.0 V252.2 h-4.0 z M812.9 256.0 h4.0 V260.0 h-4.0 z M824.7 258.4 h4.0 V259.6 h-4.0 z M836.5 249.5 h4.0 V258.6 h-4.0 z M842.3 247.6 h4.0 V250.5 h-4.0 z M848.2 241.2 h4.0 V248.1 h-4.0 z M865.9 247.2 h4.0 V252.8 h-4.0 z M877.6 250.5 h4.0 V252.2 h-4.0 z M883.5 242.4 h4.0 V250.2 h-4.0 z M889.4 241.6 h4.0 V243.0 h-4.0 z M895.3 236.4 h4.0 V241.9 h-4.0 z M907.0 239.0 h4.0 V248.1 h-4.0 z M918.8 238.1 h4.0 V242.9 h-4.0 z M942.3 247.6 h4.0 V249.8 h-4.0 z M971.7 278.1 h4.0 V283.6 h-4.0 z M983.5 286.2 h4.0 V287.9 h-4.0 z M995.2 279.0 h4.0 V292.2 h-4.0 z M1001.1 277.6 h4.0 V279.0 h-4.0 z M1012.9 271.6 h4.0 V277.9 h-4.0 z M1018.7 267.2 h4.0 V271.6 h-4.0 z" fill="#ff0a3c"/>
<path d="M697.3 270.7 V273.3 M720.9 266.0 V269.0 M756.1 250.9 V259.5 M762.0 258.1 V267.6 M803.2 250.0 V254.3 M809.1 248.8 V260.9 M820.8 255.2 V265.0 M832.6 255.2 V260.9 M856.1 242.4 V246.7 M862.0 244.7 V255.3 M873.7 248.8 V260.5 M903.1 235.0 V248.1 M914.9 239.3 V248.1 M926.7 238.1 V242.4 M932.5 237.8 V242.8 M938.4 240.3 V252.8 M950.2 242.4 V252.8 M956.1 246.7 V257.4 M961.9 256.0 V278.4 M967.8 278.4 V287.0 M979.6 278.4 V292.2 M991.3 282.8 V294.0 M1009.0 275.5 V281.0 M1026.6 262.9 V277.2" stroke="#00308f" stroke-width="1" fill="none"/>
<path d="M695.3 270.7 h4.0 V273.3 h-4.0 z M718.9 265.9 h4.0 V267.1 h-4.0 z M754.1 250.9 h4.0 V257.8 h-4.0 z M760.0 258.1 h4.0 V266.0 h-4.0 z M801.2 250.0 h4.0 V251.2 h-4.0 z M807.1 251.2 h4.0 V259.5 h-4.0 z M818.8 256.0 h4.0 V258.1 h-4.0 z M830.6 257.1 h4.0 V258.4 h-4.0 z M854.1 242.4 h4.0 V245.0 h-4.0 z M860.0 244.7 h4.0 V253.6 h-4.0 z M871.7 248.8 h4.0 V253.3 h-4.0 z M901.1 236.4 h4.0 V248.1 h-4.0 z M912.9 239.3 h4.0 V242.4 h-4.0 z M924.7 238.1 h4.0 V240.2 h-4.0 z M930.5 240.0 h4.0 V241.2 h-4.0 z M936.4 240.3 h4.0 V249.8 h-4.0 z M948.2 246.7 h4.0 V252.8 h-4.0 z M954.1 251.9 h4.0 V255.7 h-4.0 z M959.9 256.0 h4.0 V278.4 h-4.0 z M965.8 278.4 h4.0 V283.6 h-4.0 z M977.6 278.4 h4.0 V287.9 h-4.0 z M989.3 286.7 h4.0 V292.2 h-4.0 z M1007.0 277.6 h4.0 V278.8 h-4.0 z M1024.6 267.2 h4.0 V271.6 h-4.0 z" fill="#00308f"/>
<g fill="none" stroke-width="1" stroke-linejoin="round">
<path d="M679.7 261.2 L685.5 262.1 L691.7 260.9 L703.4 257.8 L715.0 254.0 L726.7 251.7 L732.6 248.8 L738.8 243.1 L744.1 238.4 L750.5 235.3 L756.0 234.5 L762.1 234.5 L773.8 235.3 L779.7 236.2 L785.7 237.9 L791.4 237.9 L803.1 237.9 L815.0 239.7 L826.7 241.9 L832.6 242.2 L838.3 241.4 L840.0 241.6 L850.7 236.4 L856.0 235.5 L867.9 236.4 L879.7 236.4 L885.3 235.0 L897.1 231.6 L909.0 229.1 L920.7 226.9 L932.6 226.6 L938.3 227.8 L950.0 230.7 L955.9 229.5 L961.7 220.9 L968.1 213.1 L979.7 205.3 L991.7 199.3 L996.9 199.3 L1002.9 200.5 L1014.7 206.2 L1026.6 212.8" stroke="#3fd6dc"/>
<path d="M679.7 300.7 L685.5 298.4 L691.7 297.2 L697.4 297.9 L703.4 299.3 L715.0 300.5 L720.9 300.2 L726.7 297.9 L732.6 299.0 L738.8 301.4 L744.1 303.3 L750.5 305.0 L756.0 305.3 L762.1 305.0 L767.9 301.9 L773.8 299.3 L779.7 296.7 L785.7 289.3 L791.4 287.2 L803.1 281.0 L815.0 276.7 L826.7 273.6 L838.3 271.2 L840.0 270.9 L850.7 272.9 L873.8 271.7 L885.3 269.1 L900.0 268.1 L909.5 269.0 L920.7 270.3 L934.5 265.9 L944.8 262.4 L950.0 260.7 L956.0 262.1 L961.9 274.1 L967.8 284.5 L973.6 293.1 L979.5 300.9 L985.3 307.8 L991.4 314.1 L997.2 316.9 L1003.1 319.0 L1009.0 320.3 L1020.7 319.8 L1026.7 319.3" stroke="#3fd6dc"/>
<path d="M679.7 267.2 L685.5 268.1 L691.7 267.2 L703.4 264.7 L715.0 262.1 L720.9 260.9 L726.7 260.3 L732.6 257.8 L738.8 252.6 L744.1 249.1 L750.5 247.1 L756.0 246.6 L767.9 246.4 L779.7 246.6 L791.4 247.1 L803.1 246.0 L815.0 246.4 L826.7 247.1 L838.3 247.1 L840.0 246.4 L850.7 242.9 L861.9 241.9 L873.8 241.9 L885.3 240.7 L897.1 237.2 L909.0 236.4 L920.7 233.8 L932.6 232.9 L938.3 233.3 L950.0 235.5 L955.9 234.3 L961.7 229.5 L968.1 226.0 L979.7 221.7 L991.7 217.9 L1002.9 220.9 L1014.7 225.7 L1026.6 230.7" stroke="#ff6a4a"/>
<path d="M679.7 294.1 L685.5 292.1 L691.7 291.2 L703.4 292.1 L715.0 292.1 L720.9 291.6 L726.7 289.8 L732.6 290.7 L744.1 292.4 L750.5 293.3 L756.0 293.3 L762.1 292.4 L773.8 288.6 L779.7 286.4 L785.7 282.1 L791.4 278.6 L803.1 273.6 L815.0 270.2 L826.7 267.8 L838.3 266.0 L840.0 266.6 L850.7 267.1 L861.9 267.1 L873.8 265.7 L885.3 263.6 L897.1 262.2 L900.0 262.4 L920.7 262.4 L934.5 259.0 L944.8 256.0 L950.0 254.8 L956.0 256.6 L961.9 264.7 L967.8 272.4 L973.6 276.7 L979.5 283.6 L985.3 289.3 L991.4 294.5 L997.2 296.9 L1003.1 299.1 L1009.0 300.9 L1020.7 301.4 L1026.7 301.7" stroke="#ff6a4a"/>
<path d="M679.7 275.0 L685.5 273.6 L691.7 272.4 L703.4 270.2 L715.0 268.1 L726.7 266.4 L732.6 265.0 L738.8 262.1 L744.1 260.3 L750.5 258.6 L756.0 257.8 L762.1 257.2 L773.8 256.6 L779.7 256.0 L785.7 254.7 L791.4 253.4 L797.4 252.6 L809.1 252.2 L820.9 252.2 L832.6 252.1 L838.3 251.7 L840.0 251.6 L850.7 248.4 L861.9 247.1 L873.8 247.6 L885.3 246.4 L897.1 243.6 L909.0 242.4 L920.7 240.7 L932.6 240.2 L944.1 240.2 L955.9 239.8 L961.7 237.8 L968.1 236.9 L979.7 237.2 L991.7 238.1 L1002.9 240.7 L1014.7 244.1 L1026.6 247.9" stroke="#a6d82e"/>
<path d="M679.7 287.2 L685.5 286.0 L697.4 285.5 L709.1 285.2 L720.9 283.4 L726.7 282.4 L732.6 282.1 L744.1 282.1 L756.0 282.1 L762.1 281.2 L773.8 278.1 L779.7 276.4 L785.7 273.1 L791.4 270.5 L803.1 266.7 L815.0 264.3 L826.7 262.6 L838.3 261.2 L840.0 261.4 L850.7 260.9 L861.9 260.9 L873.8 260.2 L885.3 257.9 L897.1 256.2 L900.0 256.6 L920.7 255.2 L934.5 252.6 L944.8 250.9 L950.0 250.5 L956.0 252.6 L961.9 256.9 L967.8 261.2 L973.6 264.7 L979.5 269.0 L985.3 273.3 L991.4 276.2 L997.2 277.9 L1003.1 279.3 L1012.1 281.6 L1020.7 282.8 L1026.7 283.6" stroke="#a6d82e"/>
<path d="M679.7 280.5 L691.7 279.3 L703.4 278.1 L715.0 276.7 L726.7 275.0 L732.6 273.6 L744.1 271.6 L756.0 270.2 L762.1 269.5 L773.8 267.2 L785.7 264.3 L791.4 262.6 L803.1 260.3 L815.0 259.1 L826.7 257.8 L838.3 256.4 L840.0 256.2 L850.7 254.5 L861.9 254.5 L873.8 253.6 L885.3 252.2 L897.1 249.8 L909.0 248.8 L920.7 247.6 L932.6 246.4 L944.1 245.9 L955.9 245.3 L961.7 247.1 L968.1 249.8 L979.7 254.1 L991.7 257.9 L1002.9 260.9 L1014.7 263.6 L1026.6 265.7" stroke="#b44cff"/>
</g>
<text x="1060.5" y="205.0" font-size="8" letter-spacing="-0.2">17,600</text>
<text x="1060.5" y="219.7" font-size="8" letter-spacing="-0.2">17,400</text>
<text x="1060.5" y="234.3" font-size="8" letter-spacing="-0.2">17,200</text>
<text x="1060.5" y="249.0" font-size="8" letter-spacing="-0.2">17,000</text>
<text x="1060.5" y="263.6" font-size="8" letter-spacing="-0.2">16,800</text>
<text x="1060.5" y="278.3" font-size="8" letter-spacing="-0.2">16,600</text>
<text x="1060.5" y="292.9" font-size="8" letter-spacing="-0.2">16,400</text>
<text x="1060.5" y="307.3" font-size="8" letter-spacing="-0.2">16,200</text>
<text x="1060.5" y="321.9" font-size="8" letter-spacing="-0.2">16,000</text>
<text x="1060.5" y="337.7" font-size="8" letter-spacing="-0.2">250M</text>
<text x="1060.5" y="347.8" font-size="8" letter-spacing="-0.2">200M</text>
<text x="1060.5" y="357.8" font-size="8" letter-spacing="-0.2">150M</text>
<text x="1060.5" y="367.9" font-size="8" letter-spacing="-0.2">100M</text>
<text x="1060.5" y="378.0" font-size="8" letter-spacing="-0.2">50M</text>
<text x="734.0" y="393.0" font-size="8" letter-spacing="0.35" text-anchor="middle">2014/6/5</text>
<text x="792.7" y="393.0" font-size="8" letter-spacing="0.35" text-anchor="middle">2014/6/19</text>
<text x="851.7" y="393.0" font-size="8" letter-spacing="0.35" text-anchor="middle">2014/7/3</text>
<text x="910.6" y="393.0" font-size="8" letter-spacing="0.35" text-anchor="middle">2014/7/18</text>
<text x="969.3" y="393.0" font-size="8" letter-spacing="0.35" text-anchor="middle">2014/8/1</text>
<text x="1027.9" y="393.0" font-size="8" letter-spacing="0.35" text-anchor="middle">2014/8/15</text>
<text x="656.0" y="340.1" font-size="7.52">単位: M</text>
<rect x="652.4" y="395.4" width="437" height="34.4" fill="#fff" stroke="#333" stroke-width="1"/>
<text x="658.8" y="402.9" font-size="7.8" >上段:</text>
<path d="M680.3 400.6 H701.0" stroke="#b44cff" stroke-width="1"/>
<text x="704.5" y="402.9" font-size="7.8" letter-spacing="-0.3">単純移動平均(20)</text>
<path d="M764.8 400.6 H786.4" stroke="#a6d82e" stroke-width="1"/>
<text x="789.8" y="402.9" font-size="7.8" >+1<tspan font-style="italic" dx="1.5">σ</tspan></text>
<path d="M811.4 400.6 H832.6" stroke="#a6d82e" stroke-width="1"/>
<text x="836.0" y="402.9" font-size="7.8" >-1<tspan font-style="italic" dx="1.5">σ</tspan></text>
<path d="M857.6 400.6 H879.1" stroke="#ff6a4a" stroke-width="1"/>
<text x="882.6" y="402.9" font-size="7.8" >+2<tspan font-style="italic" dx="1.5">σ</tspan></text>
<path d="M904.1 400.6 H925.3" stroke="#ff6a4a" stroke-width="1"/>
<text x="928.6" y="402.9" font-size="7.8" >-2<tspan font-style="italic" dx="1.5">σ</tspan></text>
<path d="M950.2 400.6 H971.7" stroke="#3fd6dc" stroke-width="1"/>
<text x="975.2" y="402.9" font-size="7.8" >+3<tspan font-style="italic" dx="1.5">σ</tspan></text>
<path d="M996.4 400.6 H1018.0" stroke="#3fd6dc" stroke-width="1"/>
<text x="1021.4" y="402.9" font-size="7.8" >-3<tspan font-style="italic" dx="1.5">σ</tspan></text>
<text x="658.8" y="424.9" font-size="7.8" >下段:</text>
<path d="M680.3 422.6 H701.0" stroke="#555" stroke-width="1.3"/>
<text x="704.5" y="424.9" font-size="7.8" >出来高 単位:(M株/口/枚)</text>
<text x="995.5" y="440.6" font-size="7.7" fill="#555" style="fill:#555">(c)Quants Research Inc.</text>
</svg>
</body></html>
